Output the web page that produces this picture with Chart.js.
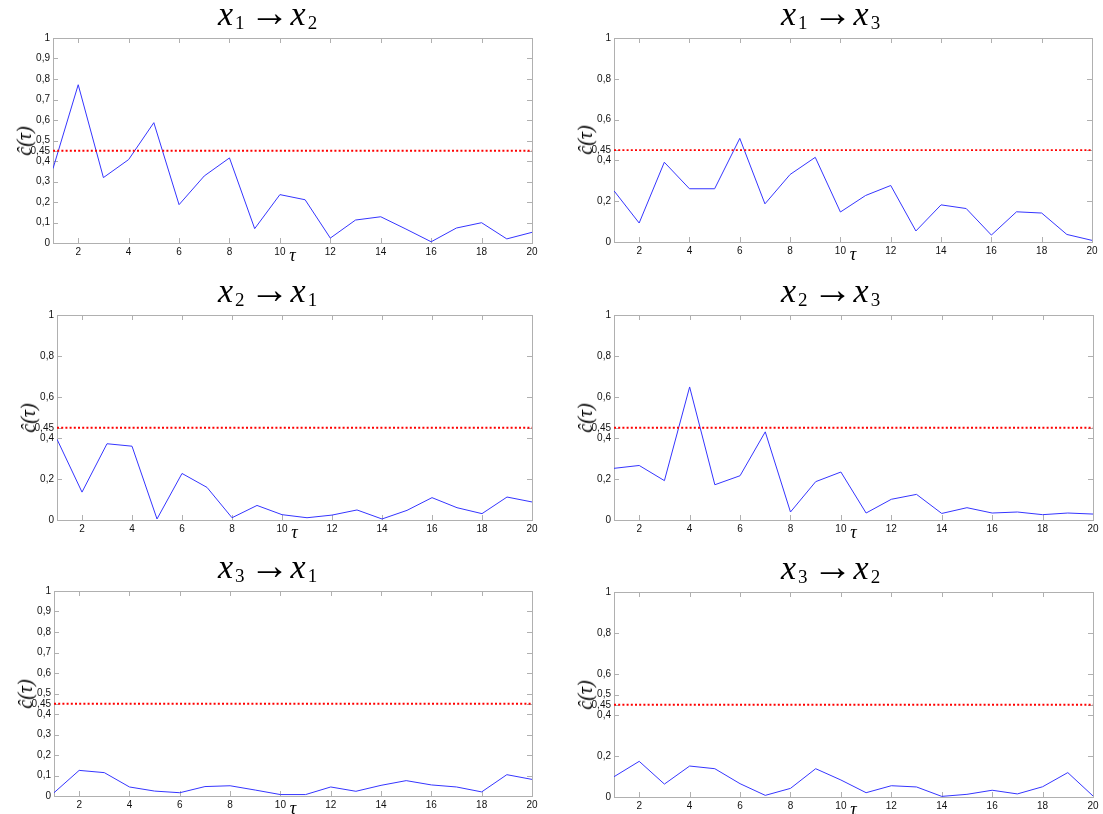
<!DOCTYPE html>
<html>
<head>
<meta charset="utf-8">
<script src="https://cdn.jsdelivr.net/npm/chart.js@4.4.0/dist/chart.umd.min.js"></script>
<style>
  html, body { margin:0; padding:0; background:#fff; }
  body { width:1103px; height:814px; overflow:hidden; position:relative; }
  canvas { position:absolute; }
  .title { position:absolute; font-family:'Liberation Serif','DejaVu Serif',serif; font-size:34px; line-height:29px; height:29px; white-space:nowrap; color:#000; }
  .title .mx { font-style:italic; }
  .title .sb { font-size:19px; line-height:0; position:relative; top:4px; margin-left:2px; }
  .title .ar { display:inline-block; width:30px; text-align:center; font-size:40px; line-height:0; position:relative; top:1px; margin:0 11px 0 5px; }
  .ylab { position:absolute; font-family:'Liberation Serif','DejaVu Serif',serif; font-style:italic; font-size:20px; line-height:20px; white-space:nowrap; transform:translate(-50%,-50%) rotate(-90deg); color:#000; }
  .xlab { position:absolute; font-family:'Liberation Serif','DejaVu Serif',serif; font-style:italic; font-size:18px; line-height:18px; white-space:nowrap; transform:translate(-50%,-50%); color:#000; }
</style>
</head>
<body>
<script>
// ---------- data ----------
const tau = [1,2,3,4,5,6,7,8,9,10,11,12,13,14,15,16,17,18,19,20];
const x1_to_x2 = [0.363,0.772,0.319,0.407,0.587,0.187,0.327,0.415,0.070,0.236,0.211,0.024,0.112,0.128,0.068,0.006,0.073,0.099,0.020,0.052];
const x1_to_x3 = [0.251,0.093,0.391,0.261,0.261,0.508,0.187,0.331,0.415,0.147,0.228,0.277,0.054,0.182,0.164,0.034,0.148,0.142,0.037,0.008];
const x2_to_x1 = [0.394,0.136,0.372,0.360,0.005,0.227,0.159,0.011,0.071,0.026,0.011,0.024,0.049,0.005,0.047,0.109,0.060,0.031,0.112,0.088];
const x2_to_x3 = [0.252,0.266,0.192,0.649,0.172,0.216,0.430,0.039,0.187,0.234,0.034,0.101,0.125,0.032,0.060,0.034,0.039,0.026,0.034,0.029];
const x3_to_x1 = [0.016,0.125,0.114,0.044,0.024,0.016,0.046,0.050,0.029,0.007,0.007,0.044,0.023,0.052,0.075,0.054,0.044,0.020,0.104,0.081];
const x3_to_x2 = [0.099,0.174,0.063,0.151,0.138,0.065,0.008,0.042,0.138,0.083,0.021,0.055,0.049,0.003,0.013,0.033,0.015,0.050,0.119,0.005];
const threshold = 0.45;
const xTicks = [2,4,6,8,10,12,14,16,18,20];
const yTicksFine = [0,0.1,0.2,0.3,0.4,0.45,0.5,0.6,0.7,0.8,0.9,1];
const yTicksCoarse = [0,0.2,0.4,0.45,0.6,0.8,1];
const yTicksMixed = [0,0.2,0.4,0.45,0.5,0.6,0.8,1];
const titleIdx = [["1","2"],["1","3"],["2","1"],["2","3"],["3","1"],["3","2"]];
const yLabelText = "ĉ(τ)";
const xLabelText = "τ";

// ---------- layout (chart-area boxes in page px) ----------
const panels = [
  {vals:x1_to_x2, yt:yTicksFine,   l:53,  r:532,  t:38,  b:243, tl:218},
  {vals:x1_to_x3, yt:yTicksCoarse, l:614, r:1092, t:38,  b:242, tl:781},
  {vals:x2_to_x1, yt:yTicksCoarse, l:57,  r:532,  t:315, b:520, tl:218},
  {vals:x2_to_x3, yt:yTicksCoarse, l:614, r:1093, t:315, b:520, tl:781},
  {vals:x3_to_x1, yt:yTicksFine,   l:54,  r:532,  t:591, b:796, tl:218},
  {vals:x3_to_x2, yt:yTicksMixed,  l:614, r:1093, t:592, b:797, tl:781}
];
const PADL = 60, PADT = 10, PADR = 20, PADB = 30;

const fmt = v => String(v).replace('.', ',');
const tickFont = {family:"'Liberation Sans', Arial, sans-serif", size:10};

const boxPlugin = {
  id:'boxTicks',
  beforeDatasetsDraw(chart) {
    const {ctx, chartArea, scales} = chart;
    const {left, top, right, bottom} = chartArea;
    ctx.save();
    ctx.strokeStyle = '#b0b0b0';
    ctx.lineWidth = 1;
    ctx.strokeRect(left + 0.5, top + 0.5, right - left, bottom - top);
    ctx.beginPath();
    const TL = 5;
    scales.x.ticks.forEach(t => {
      const px = Math.round(scales.x.getPixelForValue(t.value)) + 0.5;
      ctx.moveTo(px, bottom); ctx.lineTo(px, bottom - TL);
      ctx.moveTo(px, top); ctx.lineTo(px, top + TL);
    });
    scales.y.ticks.forEach(t => {
      const py = Math.round(scales.y.getPixelForValue(t.value)) + 0.5;
      ctx.moveTo(left, py); ctx.lineTo(left + TL, py);
      ctx.moveTo(right, py); ctx.lineTo(right - TL, py);
    });
    ctx.stroke();
    ctx.restore();
  }
};

panels.forEach((p, i) => {
  const cw = p.r - p.l + PADL + PADR;
  const ch = p.b - p.t + PADT + PADB;
  const cv = document.createElement('canvas');
  cv.width = cw; cv.height = ch;
  cv.style.left = (p.l - PADL) + 'px';
  cv.style.top = (p.t - PADT) + 'px';
  cv.style.width = cw + 'px'; cv.style.height = ch + 'px';
  document.body.appendChild(cv);

  new Chart(cv.getContext('2d'), {
    type:'line',
    data:{
      datasets:[
        {data:[{x:tau[0], y:threshold},{x:tau[tau.length-1], y:threshold}],
         borderColor:'#ff0000', borderWidth:1.8, borderDash:[2,2.2], pointRadius:0, fill:false},
        {data:tau.map((t, k) => ({x:t, y:p.vals[k]})),
         borderColor:'#3535ff', borderWidth:1, pointRadius:0, tension:0, fill:false}
      ]
    },
    options:{
      responsive:false, animation:false, events:[],
      layout:{padding:{left:0, top:PADT, right:PADR, bottom:0}},
      plugins:{legend:{display:false}, tooltip:{enabled:false}, title:{display:false}},
      scales:{
        x:{type:'linear', min:1, max:20,
           grid:{display:false, drawTicks:false}, border:{display:false},
           afterBuildTicks:s => { s.ticks = xTicks.map(v => ({value:v})); },
           afterFit:s => { s.height = PADB; },
           ticks:{autoSkip:false, maxRotation:0, minRotation:0, padding:3, font:tickFont, color:'#111', callback:v => fmt(v)}},
        y:{type:'linear', min:0, max:1,
           grid:{display:false, drawTicks:false}, border:{display:false},
           afterBuildTicks:s => { s.ticks = p.yt.slice().sort((a,b)=>a-b).map(v => ({value:v})); },
           afterFit:s => { s.width = PADL; },
           ticks:{autoSkip:false, padding:3, font:tickFont, color:'#111', callback:v => fmt(v)}}
      }
    },
    plugins:[boxPlugin]
  });

  const ti = document.createElement('div');
  ti.className = 'title';
  ti.innerHTML = '<span class="mx">x</span><span class="sb">' + titleIdx[i][0] +
                 '</span><span class="ar">→</span><span class="mx">x</span><span class="sb">' +
                 titleIdx[i][1] + '</span>';
  ti.style.left = p.tl + 'px';
  ti.style.top = (p.t - 13 - 26) + 'px';
  document.body.appendChild(ti);

  const yl = document.createElement('div');
  yl.className = 'ylab';
  yl.textContent = yLabelText;
  yl.style.left = (p.l - 29) + 'px';
  yl.style.top = ((p.t + p.b) / 2) + 'px';
  document.body.appendChild(yl);

  const xl = document.createElement('div');
  xl.className = 'xlab';
  xl.textContent = xLabelText;
  xl.style.left = ((p.l + p.r) / 2) + 'px';
  xl.style.top = (p.b + 12) + 'px';
  document.body.appendChild(xl);
});
</script>
</body>
</html>
